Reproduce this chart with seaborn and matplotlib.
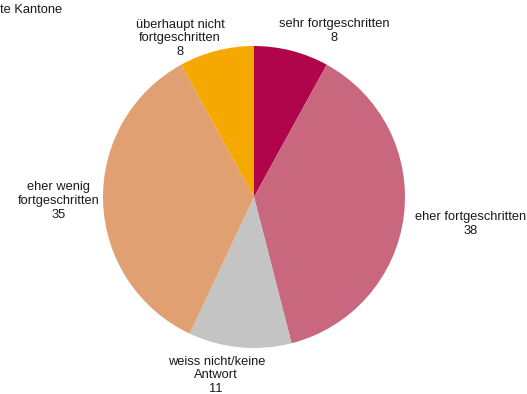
import matplotlib
matplotlib.use("Agg")
import matplotlib.pyplot as plt
import seaborn as sns

# Einschätzung des Fortschritts, Anzahl Kantone
categories = [
    "sehr fortgeschritten",
    "eher fortgeschritten",
    "weiss nicht/keine\nAntwort",
    "eher wenig\nfortgeschritten",
    "überhaupt nicht\nfortgeschritten",
]
values = [8, 38, 11, 35, 8]
colors = ["#B0054A", "#C9677F", "#C4C4C4", "#E1A072", "#F5A800"]
title = "te Kantone"

# label anchor points (in units of pie radius, centre at 0,0)
label_pos = [(0.53, 1.10), (1.432, -0.18), (-0.25, -1.182), (-1.295, -0.025), (-0.49, 1.05)]

sns.set_theme(style="white")
plt.rcParams["font.family"] = ["Liberation Sans", "DejaVu Sans"]

W, H = 527, 394
fig = plt.figure(figsize=(W / 100, H / 100), dpi=100)
ax = fig.add_axes([0, 0, 1, 1])

cx, cy, r = 254, 197, 151
ax.pie(values, colors=colors, startangle=90, counterclock=False, radius=1,
       center=(0, 0), frame=False, wedgeprops=dict(linewidth=0))
ax.set_xlim(-cx / r, (W - cx) / r)
ax.set_ylim(-(H - cy) / r, cy / r)
ax.set_aspect("auto")
ax.set_axis_off()

fs = 9.3
for cat, val, (x, y) in zip(categories, values, label_pos):
    ax.text(x, y, f"{cat}\n{val}", ha="center", va="center", fontsize=fs,
            linespacing=1.2, color="#1a1a1a")

fig.text(0.0, 1 - 10 / H, title, ha="left", va="center", fontsize=fs, color="#1a1a1a")

fig.savefig("out.png", dpi=100)
